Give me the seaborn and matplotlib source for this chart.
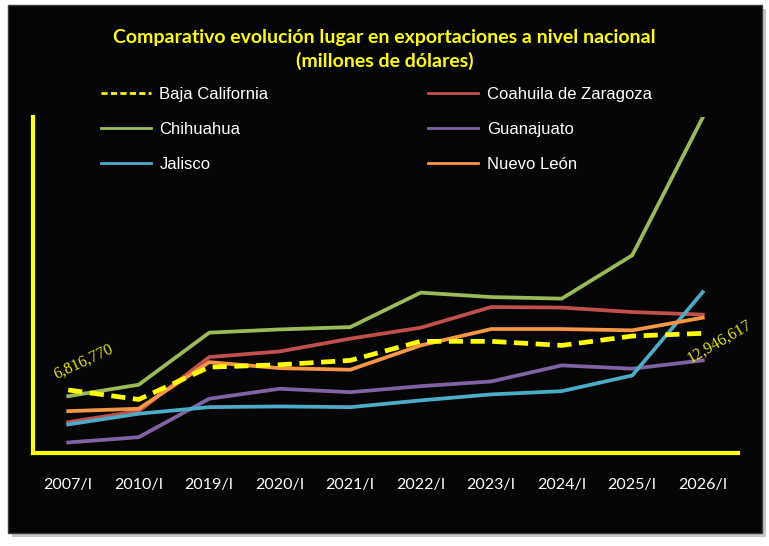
import matplotlib
matplotlib.use("Agg")
import matplotlib.pyplot as plt
from matplotlib.lines import Line2D
from matplotlib.patches import Rectangle
import seaborn as sns

# DATA (millones de dólares)
periods = ["2007/I", "2010/I", "2019/I", "2020/I", "2021/I",
           "2022/I", "2023/I", "2024/I", "2025/I", "2026/I"]
baja = [6.816770, 5.79, 9.29, 9.55, 10.02, 12.08, 12.08, 11.64, 12.65, 12.946617]
coahuila = [3.34, 4.53, 10.38, 10.99, 12.37, 13.56, 15.79, 15.73, 15.25, 14.97]
chihuahua = [6.15, 7.39, 13.02, 13.37, 13.62, 17.35, 16.87, 16.70, 21.39, 36.30]
guanajuato = [1.14, 1.71, 5.87, 6.95, 6.58, 7.23, 7.74, 9.48, 9.12, 10.02]
jalisco = [3.09, 4.25, 4.96, 5.04, 4.96, 5.69, 6.34, 6.69, 8.39, 17.41]
nuevo_leon = [4.53, 4.79, 9.83, 9.18, 9.01, 11.64, 13.41, 13.41, 13.27, 14.64]
baja_labels = ["6,816,770", "12,946,617"]

names = ["Baja California", "Coahuila de Zaragoza", "Chihuahua",
         "Guanajuato", "Jalisco", "Nuevo León"]
colors = ["#FFFF00", "#C0504D", "#9BBB59", "#8064A2", "#4BACC6", "#F79646"]
series = [baja, coahuila, chihuahua, guanajuato, jalisco, nuevo_leon]

W, H = 769, 546
fig = plt.figure(figsize=(W / 100, H / 100), dpi=100)
fig.patch.set_facecolor("white")

# black panel with a soft grey shadow
fig.patches.append(Rectangle((12 / W, 1 - 537 / H), 754 / W, 528 / H,
                             transform=fig.transFigure, facecolor="#C8C8C8",
                             edgecolor="none", zorder=-3))
fig.patches.append(Rectangle((8 / W, 1 - 533 / H), 754 / W, 528 / H,
                             transform=fig.transFigure, facecolor="#050505",
                             edgecolor="#3A3A3A", lw=1, zorder=-2))

ax = fig.add_axes([33 / W, 1 - 453 / H, 705 / W, 336 / H])
ax.set_zorder(2)
ax.set_facecolor("none")

for name, vals, col in zip(names, series, colors):
    if name == "Baja California":
        sns.lineplot(x=periods, y=vals, ax=ax, color=col, lw=3.4,
                     linestyle=(0, (3, 1.6)), zorder=5, sort=False)
    else:
        sns.lineplot(x=periods, y=vals, ax=ax, color=col, lw=2.7, zorder=3, sort=False)

ax.set_xlim(-0.5, len(periods) - 0.5)
ax.set_ylim(0, 36.35)
ax.set_yticks([])
ax.set_xlabel("")
ax.set_ylabel("")
for s in ["top", "right"]:
    ax.spines[s].set_visible(False)
for s in ["left", "bottom"]:
    ax.spines[s].set_color("#FFFF00")
    ax.spines[s].set_linewidth(3)
ax.tick_params(axis="x", length=0, pad=18, colors="white", labelsize=11.5)
for t in ax.get_xticklabels():
    t.set_fontfamily("Lato")

# data labels on Baja California
ax.annotate(baja_labels[0], xy=(0, baja[0]), xytext=(11, 20), textcoords="offset points",
            ha="center", va="center", rotation=25, color="#E6E61E",
            fontsize=11.5, family="Liberation Serif")
ax.annotate(baja_labels[1], xy=(len(periods) - 1, baja[-1]), xytext=(12, -6),
            textcoords="offset points", ha="center", va="center", rotation=30,
            color="#E6E61E", fontsize=11.5, family="Liberation Serif")

# title
fig.text(0.5, 1 - 37 / H, "Comparativo evolución lugar en exportaciones a nivel nacional",
         ha="center", va="center", color="#FFFF00", fontsize=14, fontweight="bold",
         family="Lato")
fig.text(0.5, 1 - 61 / H, "(millones de dólares)", ha="center", va="center",
         color="#FFFF00", fontsize=14, fontweight="bold", family="Lato")

# legend (row-wise order like the original)
order = [0, 2, 4, 1, 3, 5]
handles = []
for i in order:
    if i == 0:
        handles.append(Line2D([], [], color=colors[i], lw=2, linestyle=(0, (2.2, 1.2))))
    else:
        handles.append(Line2D([], [], color=colors[i], lw=2))
leg = fig.legend(handles, [names[i] for i in order], ncol=2, loc="upper left",
                 bbox_to_anchor=(101 / W, 1 - 87 / H), frameon=False,
                 prop={"family": "Liberation Sans", "size": 12},
                 handlelength=3.0, handletextpad=0.5, columnspacing=9.6,
                 labelspacing=1.2, borderpad=0, borderaxespad=0)
for t in leg.get_texts():
    t.set_color("white")

fig.savefig("out.png", dpi=100, facecolor=fig.get_facecolor())
